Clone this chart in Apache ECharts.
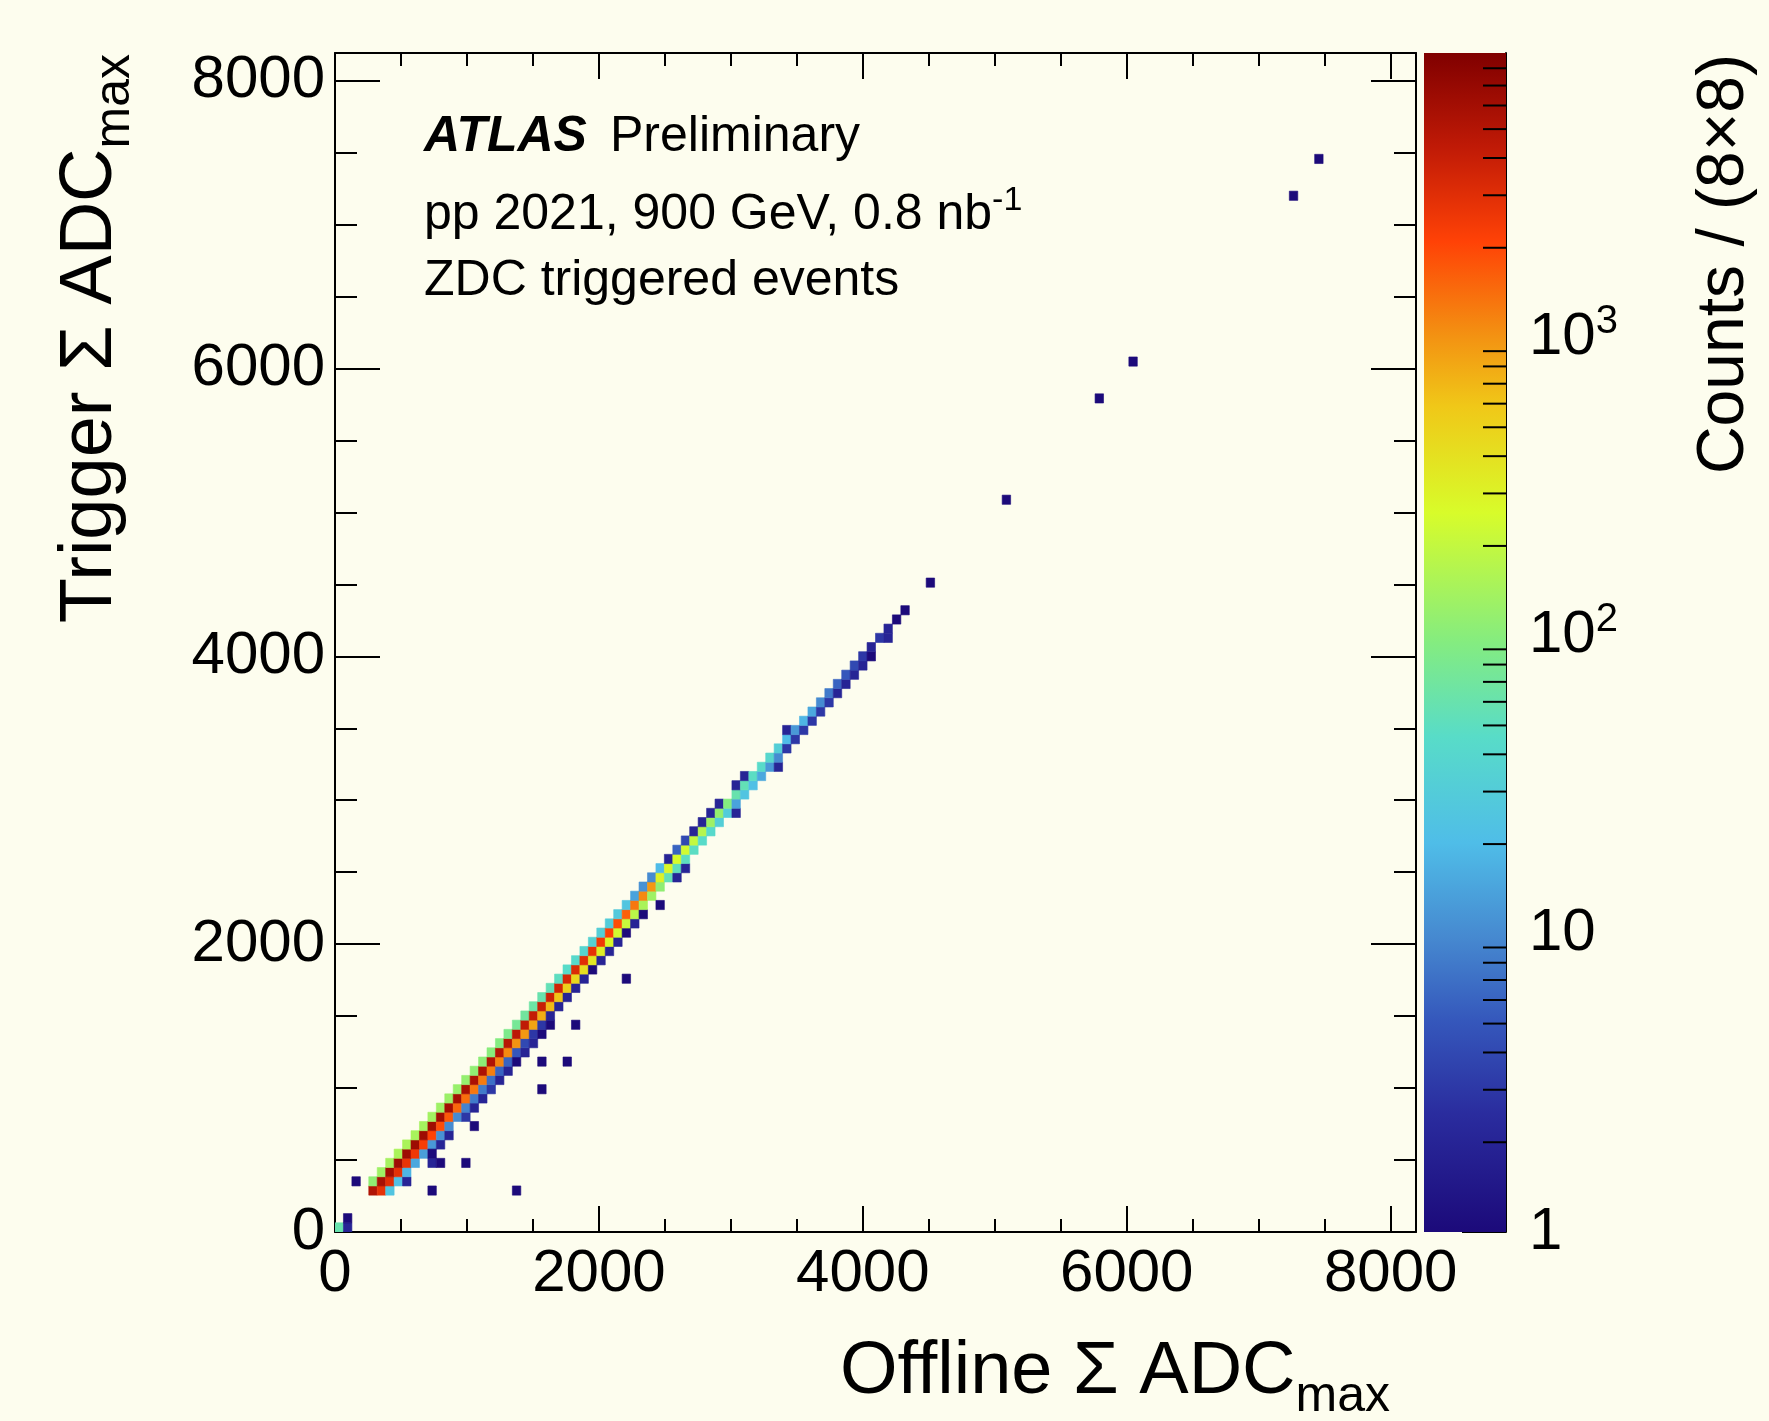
<!DOCTYPE html>
<html>
<head>
<meta charset="utf-8">
<title>Trigger vs offline ZDC sum</title>
<script src="https://cdn.jsdelivr.net/npm/echarts@6/dist/echarts.min.js"></script>
<style>
  html, body { margin: 0; padding: 0; background: #fdfdee; }
  #main { width: 1769px; height: 1421px; }
</style>
</head>
<body>
<div id="main"></div>
<script>
// histogram binning (ADC units), both axes 0..8192 in 128 bins
const binW = 64;
const axisMax = 8192;
const zMax = 9000;

// diagonal band: one entry per trigger bin, first filled offline bin, then counts left -> right
const bandRow = [4, 5, 6, 7, 8, 9, 10, 11, 12, 13, 14, 15, 16, 17, 18, 19, 20, 21, 22, 23,
  24, 25, 26, 27, 28, 29, 30, 31, 32, 33, 34, 35, 36, 37, 38, 39, 40, 41, 42, 43,
  44, 45, 46, 47, 48, 49, 50, 51, 52, 53, 54, 55, 56, 57, 58, 59, 60, 61, 62, 63,
  64, 65, 66, 67];
const bandFirst = [4, 4, 5, 6, 7, 8, 9, 10, 11, 12, 13, 14, 15, 16, 17, 18, 19, 20, 21, 22,
  23, 24, 25, 26, 27, 28, 29, 30, 31, 32, 33, 34, 35, 36, 37, 38, 39, 40, 41, 42,
  43, 44, 45, 47, 47, 48, 50, 51, 52, 53, 53, 55, 56, 57, 58, 59, 60, 61, 62, 63,
  64, 65, 66, 67];
const bandCounts = [
  [5200, 2800, 25], [110, 5800, 3000, 22, 2], [130, 6200, 2900, 18], [140, 6400, 2700, 15],
  [150, 6500, 2500, 13], [150, 6500, 2300, 12, 2], [145, 6400, 2100, 11, 2], [140, 6300, 1900, 10],
  [135, 6200, 1700, 10, 3], [130, 6000, 1500, 9, 2], [125, 5900, 1400, 8, 2], [120, 5800, 1300, 8, 3],
  [115, 5600, 1250, 7, 2], [110, 5400, 1200, 6, 2], [105, 5200, 1150, 6, 1], [100, 5000, 1100, 5, 2],
  [95, 4800, 1000, 4, 2], [85, 4600, 950, 3, 1], [75, 4400, 850, 3, 1], [70, 4200, 760, 2],
  [65, 4000, 680, 2], [60, 3800, 600, 2], [55, 3600, 520, 2], [50, 3400, 460, 2],
  [46, 3200, 410, 1], [42, 3000, 360, 2], [38, 2800, 320, 2], [35, 2500, 280, 2],
  [32, 2200, 240, 1], [30, 1900, 210, 2], [28, 1600, 180, 1], [25, 1300, 150],
  [14, 1100, 130], [11, 950, 110], [10, 300, 55, 2], [20, 280, 52, 2],
  [2, 260, 50], [6, 240, 48], [4, 200, 45], [2, 170, 42],
  [2, 130, 32], [2, 115, 30, 2], [2, 95, 14], [60, 24],
  [2, 55, 22], [2, 48, 15], [45, 12, 2], [40, 10],
  [32, 3], [20, 3], [2, 12, 3], [18, 3],
  [15, 3], [10, 3], [8, 2], [6, 2],
  [5, 2], [4, 2], [3, 1], [2],
  [3, 2], [2], [1], [1]
];

// isolated bins away from the band (offline bin, trigger bin, counts)
const isoOffline = [0, 1, 1, 2, 11, 11, 12, 11, 15, 16, 21, 24, 24, 27, 28, 34, 38, 70, 79, 90, 94, 113, 116];
const isoTrigger = [0, 0, 1, 5, 4, 7, 7, 8, 7, 11, 4, 15, 18, 18, 22, 27, 35, 70, 79, 90, 94, 112, 116];
const isoCounts  = [60, 2, 1, 1, 1, 2, 1, 1, 1, 1, 1, 1, 1, 1, 1, 1, 1, 1, 1, 1, 1, 1, 1];

// tick positions
const xyMajor = [0, 2000, 4000, 6000, 8000];
const xyMinor = [500, 1000, 1500, 2500, 3000, 3500, 4500, 5000, 5500, 6500, 7000, 7500];
const zMajor = [1, 10, 100, 1000];
const zMinor = [2, 3, 4, 5, 6, 7, 8, 9, 20, 30, 40, 50, 60, 70, 80, 90,
  200, 300, 400, 500, 600, 700, 800, 900, 2000, 3000, 4000, 5000, 6000, 7000, 8000];

// colour palette, position along log scale -> colour
const palette = [
  [0.00, '#1c0a7a'], [0.10, '#2a2c9e'], [0.18, '#3558bc'], [0.25, '#4689d0'],
  [0.33, '#4fbde8'], [0.42, '#58dcc8'], [0.50, '#84ec80'], [0.61, '#d8fc2a'],
  [0.70, '#f0c818'], [0.76, '#f39212'], [0.84, '#ff4206'], [0.92, '#c01a06'],
  [1.00, '#800000']
];

const FONT = 'Liberation Sans';
const logMax = Math.log10(zMax);

function hexRgb(h) {
  return [parseInt(h.slice(1, 3), 16), parseInt(h.slice(3, 5), 16), parseInt(h.slice(5, 7), 16)];
}
function countColor(c) {
  let t = Math.log10(c) / logMax;
  t = Math.max(0, Math.min(1, t));
  for (let k = 1; k < palette.length; k++) {
    if (t <= palette[k][0]) {
      const a = hexRgb(palette[k - 1][1]), b = hexRgb(palette[k][1]);
      const f = (t - palette[k - 1][0]) / (palette[k][0] - palette[k - 1][0]);
      const m = a.map((v, i) => Math.round(v + (b[i] - v) * f));
      return 'rgb(' + m.join(',') + ')';
    }
  }
  return palette[palette.length - 1][1];
}

// build cell list [x0, y0, count]
const cells = [];
bandRow.forEach(function (j, r) {
  bandCounts[r].forEach(function (c, k) {
    cells.push([(bandFirst[r] + k) * binW, j * binW, c]);
  });
});
isoOffline.forEach(function (i, k) {
  cells.push([i * binW, isoTrigger[k] * binW, isoCounts[k]]);
});

const chart = echarts.init(document.getElementById('main'));

const labelStyle = { fontFamily: FONT, fontSize: 60, color: '#000' };
const blackLine = { color: '#000', width: 2 };

function frameAxis(pos, major, len, withLine, withLabel, margin) {
  return {
    gridIndex: 0, type: 'value', position: pos, min: 0, max: axisMax,
    axisLine: { show: withLine, onZero: false, lineStyle: blackLine },
    axisTick: { show: true, inside: true, length: len, customValues: major, lineStyle: blackLine },
    axisLabel: Object.assign({
      show: withLabel, customValues: xyMajor, margin: margin,
      formatter: function (v) { return String(v); }
    }, labelStyle),
    splitLine: { show: false }
  };
}

// rich styles for titles with a subscript
const subTitleRich = {
  m: { fontFamily: FONT, fontSize: 74, lineHeight: 74, color: '#000', verticalAlign: 'top' },
  s: { fontFamily: FONT, fontSize: 50, lineHeight: 86, color: '#000', verticalAlign: 'bottom' }
};

const option = {
  backgroundColor: '#fdfdee',
  animation: false,
  grid: [
    { left: 335, top: 53, width: 1081, height: 1179, outerBoundsMode: 'none' },
    { left: 1424, top: 53, width: 82, height: 1179, outerBoundsMode: 'none' }
  ],
  xAxis: [
    frameAxis('bottom', xyMajor, 26, true, true, 12),
    frameAxis('bottom', xyMinor, 13, false, false, 0),
    frameAxis('top', xyMajor, 26, true, false, 0),
    frameAxis('top', xyMinor, 13, false, false, 0),
    { gridIndex: 1, type: 'value', min: 0, max: 1, show: false }
  ],
  yAxis: [
    frameAxis('left', xyMajor, 45, true, true, 10),
    frameAxis('left', xyMinor, 22, false, false, 0),
    frameAxis('right', xyMajor, 45, true, false, 0),
    frameAxis('right', xyMinor, 22, false, false, 0),
    {
      gridIndex: 1, type: 'value', position: 'right', min: 0, max: logMax,
      axisLine: { show: true, onZero: false, lineStyle: blackLine },
      axisTick: { show: true, inside: true, length: 44, customValues: zMajor.map(Math.log10), lineStyle: blackLine },
      axisLabel: {
        customValues: zMajor.map(Math.log10), margin: 23,
        formatter: function (v) {
          const e = Math.round(v);
          if (e === 0) return '{b|1}';
          if (e === 1) return '{b|10}';
          return '{b|10}{s|' + e + '}';
        },
        rich: {
          b: { fontFamily: FONT, fontSize: 60, lineHeight: 72, color: '#000', verticalAlign: 'middle' },
          s: { fontFamily: FONT, fontSize: 40, color: '#000', verticalAlign: 'top' }
        }
      },
      splitLine: { show: false }
    }
  ],
  series: [
    {
      type: 'custom',
      xAxisIndex: 0, yAxisIndex: 0,
      clip: true,
      data: cells,
      renderItem: function (params, api) {
        const x0 = api.value(0), y0 = api.value(1);
        const a = api.coord([x0, y0 + binW]);
        const b = api.coord([x0 + binW, y0]);
        const col = countColor(api.value(2));
        return {
          type: 'rect',
          shape: { x: a[0], y: a[1], width: b[0] - a[0], height: b[1] - a[1] },
          style: { fill: col, stroke: col, lineWidth: 0.6 }
        };
      }
    },
    {
      // colour scale bar with its minor ticks
      type: 'custom',
      xAxisIndex: 4, yAxisIndex: 4,
      data: [[0, 0]],
      renderItem: function (params, api) {
        const top = api.coord([0, logMax]);
        const bot = api.coord([1, 0]);
        const children = [{
          type: 'rect',
          shape: { x: top[0], y: top[1], width: bot[0] - top[0], height: bot[1] - top[1] },
          style: {
            fill: new echarts.graphic.LinearGradient(0, 1, 0, 0,
              palette.map(function (p) { return { offset: p[0], color: p[1] }; }))
          }
        }];
        zMinor.forEach(function (v) {
          const p = api.coord([1, Math.log10(v)]);
          children.push({
            type: 'line',
            shape: { x1: p[0] - 23, y1: p[1], x2: p[0], y2: p[1] },
            style: { stroke: '#000', lineWidth: 2 }
          });
        });
        return { type: 'group', children: children };
      }
    }
  ],
  graphic: [
    {
      type: 'text', x: 424, y: 155 - 0.35 * 50,
      style: { text: 'ATLAS', fontFamily: FONT, fontSize: 50, fontWeight: 'bold', fontStyle: 'italic',
        fill: '#000', verticalAlign: 'middle' }
    },
    {
      type: 'text', x: 610, y: 155 - 0.35 * 50,
      style: { text: 'Preliminary', fontFamily: FONT, fontSize: 50, fill: '#000', verticalAlign: 'middle' }
    },
    {
      type: 'text', x: 424, y: 184,
      style: {
        text: '{t|pp 2021, 900 GeV, 0.8 nb}{s|-1}', verticalAlign: 'top',
        rich: {
          t: { fontFamily: FONT, fontSize: 50, lineHeight: 56, color: '#000', verticalAlign: 'bottom' },
          s: { fontFamily: FONT, fontSize: 34, color: '#000', verticalAlign: 'top' }
        }
      }
    },
    {
      type: 'text', x: 424, y: 299 - 0.35 * 50,
      style: { text: 'ZDC triggered events', fontFamily: FONT, fontSize: 50, fill: '#000', verticalAlign: 'middle' }
    },
    {
      // x axis title
      type: 'text', x: 1390, y: 1336,
      style: { text: '{m|Offline Σ ADC}{s|max}', align: 'right', verticalAlign: 'top', rich: subTitleRich }
    },
    {
      // y axis title, rotated
      type: 'text', x: 54, y: 54, rotation: Math.PI / 2,
      style: { text: '{m|Trigger Σ ADC}{s|max}', align: 'right', verticalAlign: 'top', rich: subTitleRich }
    },
    {
      // colour scale title
      type: 'text', x: 1725, y: 54, rotation: Math.PI / 2,
      style: { text: 'Counts / (8×8)', fontFamily: FONT, fontSize: 66, fill: '#000',
        align: 'right', verticalAlign: 'middle' }
    }
  ]
};

chart.setOption(option);
</script>
</body>
</html>
